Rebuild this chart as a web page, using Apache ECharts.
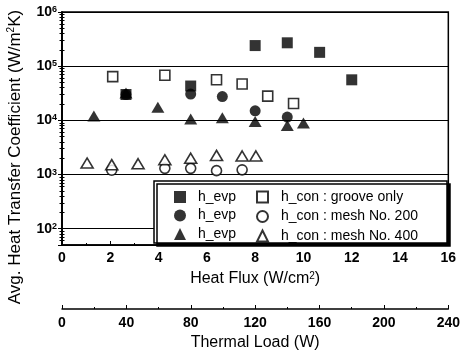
<!DOCTYPE html>
<html>
<head>
<meta charset="utf-8">
<script src="https://cdn.jsdelivr.net/npm/echarts@6/dist/echarts.min.js"></script>
<style>
html,body{margin:0;padding:0;background:#fff;}
#chart{width:463px;height:357px;}
</style>
</head>
<body>
<div id="chart"></div>
<script>
// ---- data ----
const evpGroove = [[2.65,3.0e4],[5.33,4.3e4],[8.0,2.4e5],[9.33,2.7e5],[10.67,1.8e5],[12.0,5.6e4]];
const conGroove = [[2.10,6.4e4],[4.26,6.8e4],[6.40,5.6e4],[7.46,4.7e4],[8.52,2.8e4],[9.59,2.05e4]];
const evpMesh200 = [[2.65,3.0e4],[5.33,3.05e4],[6.64,2.75e4],[8.0,1.5e4],[9.33,1.15e4]];
const conMesh200 = [[2.06,1.2e3],[4.26,1.3e3],[5.33,1.3e3],[6.40,1.18e3],[7.46,1.22e3]];
const evpMesh400 = [[1.32,1.2e4],[2.65,3.2e4],[3.97,1.75e4],[5.33,1.06e4],[6.64,1.12e4],[8.0,9.5e3],[9.33,8.0e3],[10.0,8.9e3]];
const conMesh400 = [[1.04,1.63e3],[2.06,1.52e3],[3.15,1.58e3],[4.26,1.87e3],[5.33,2.0e3],[6.40,2.25e3],[7.46,2.2e3],[8.03,2.2e3]];

const heatFluxRange = [0, 16];
const heatFluxInterval = 2;
const loadRange = [0, 240];
const loadInterval = 40;
const hRange = [50, 1e6];

const legendLabels = {
  evpGroove: 'h_evp', evpMesh200: 'h_evp', evpMesh400: 'h_evp',
  conGroove: 'h_con : groove only', conMesh200: 'h_con : mesh No. 200', conMesh400: 'h_con : mesh No. 400'
};

const FONT = 'Liberation Sans, Arial, Helvetica, sans-serif';

function powLabel(v) {
  const n = Math.round(Math.log10(v));
  if (Math.abs(v - Math.pow(10, n)) / Math.pow(10, n) < 1e-6) return '{b|10}{s|' + n + '}';
  return '';
}

const chart = echarts.init(document.getElementById('chart'), null, {renderer: 'canvas'});

const filled = {color: '#000', borderColor: '#000', borderWidth: 0};
const open = {color: '#fff', borderColor: '#000', borderWidth: 1.6};

const option = {
  animation: false,
  backgroundColor: '#fff',
  textStyle: {fontFamily: FONT},
  grid: {left: 62, right: 10, top: 12, bottom: 112, show: true, borderColor: '#000', borderWidth: 1.5, backgroundColor: 'transparent'},
  xAxis: [
    {
      type: 'value', min: heatFluxRange[0], max: heatFluxRange[1], interval: heatFluxInterval, position: 'bottom',
      axisLine: {lineStyle: {color: '#000', width: 1.5}},
      axisTick: {inside: true, length: 4, lineStyle: {color: '#000'}},
      minorTick: {show: true, splitNumber: 2, length: 2, lineStyle: {color: '#000'}},
      splitLine: {show: false},
      axisLabel: {color: '#000', fontSize: 14, fontWeight: 'bold', fontFamily: FONT, margin: 6},
      name: 'Heat Flux (W/cm{s|2})', nameLocation: 'middle', nameGap: 26,
      nameTextStyle: {color: '#000', fontSize: 16, fontFamily: FONT,
        rich: {s: {fontSize: 10, verticalAlign: 'top', lineHeight: 8, fontFamily: FONT}}}
    },
    {
      type: 'value', min: loadRange[0], max: loadRange[1], interval: loadInterval, position: 'bottom', offset: 64,
      axisLine: {lineStyle: {color: '#000', width: 1.5}},
      axisTick: {inside: true, length: 4, lineStyle: {color: '#000'}},
      minorTick: {show: true, splitNumber: 2, length: 2, lineStyle: {color: '#000'}},
      splitLine: {show: false},
      axisLabel: {color: '#000', fontSize: 14, fontWeight: 'bold', fontFamily: FONT, margin: 7},
      name: 'Thermal Load (W)', nameLocation: 'middle', nameGap: 25,
      nameTextStyle: {color: '#000', fontSize: 16, fontFamily: FONT}
    }
  ],
  yAxis: [
    {
      type: 'log', logBase: 10, min: hRange[0], max: hRange[1], position: 'left',
      axisLine: {lineStyle: {color: '#000', width: 1.5}},
      axisTick: {inside: true, length: 4, lineStyle: {color: '#000'}},
      minorTick: {show: true, splitNumber: 9, length: 2.5, lineStyle: {color: '#000'}},
      splitLine: {show: true, lineStyle: {color: '#000', width: 1}},
      axisLabel: {
        color: '#000', fontFamily: FONT, margin: 5, showMinLabel: false,
        formatter: powLabel,
        rich: {
          b: {fontSize: 14, fontWeight: 'bold', fontFamily: FONT, color: '#000', lineHeight: 14},
          s: {fontSize: 9, fontWeight: 'bold', fontFamily: FONT, color: '#000', verticalAlign: 'top', lineHeight: 8}
        }
      }
    },
    {
      type: 'log', logBase: 10, min: hRange[0], max: hRange[1], position: 'right',
      axisLine: {lineStyle: {color: '#000', width: 1.5}},
      axisTick: {inside: true, length: 4, lineStyle: {color: '#000'}},
      minorTick: {show: true, splitNumber: 9, length: 2.5, lineStyle: {color: '#000'}},
      splitLine: {show: false},
      axisLabel: {show: false}
    }
  ],
  legend: [
    {
      data: ['evpGroove', 'evpMesh200', 'evpMesh400'], orient: 'vertical', left: 169, top: 185,
      itemWidth: 12, itemHeight: 12, itemGap: 4.5, z: 20,
      formatter: n => legendLabels[n],
      textStyle: {color: '#000', fontSize: 14, fontFamily: FONT, lineHeight: 14, padding: [0, 0, 0, 7]}
    },
    {
      data: ['conGroove', 'conMesh200', 'conMesh400'], orient: 'vertical', left: 251, top: 185,
      itemWidth: 11, itemHeight: 11, itemGap: 5.5, z: 20,
      formatter: n => legendLabels[n],
      textStyle: {color: '#000', fontSize: 14, fontFamily: FONT, lineHeight: 14, padding: [0, 0, 0, 8]}
    }
  ],
  graphic: [
    {
      type: 'rect', z: 10, silent: true,
      shape: {x: 154, y: 181, width: 293, height: 62},
      style: {fill: '#fff', stroke: '#000', lineWidth: 1.5, shadowColor: '#000', shadowOffsetX: 3, shadowOffsetY: 3, shadowBlur: 0}
    },
    {
      type: 'text', z: 10, silent: true, x: 15, y: 157, rotation: Math.PI / 2,
      style: {
        text: 'Avg. Heat Transfer Coefficient (W/m{s|2}K)',
        font: '17px ' + FONT, fill: '#000', align: 'center', verticalAlign: 'middle',
        rich: {s: {fontSize: 10, fontFamily: FONT, verticalAlign: 'top', lineHeight: 8, fill: '#000'}}
      }
    }
  ],
  series: [
    {name: 'evpGroove', type: 'scatter', data: evpGroove, symbol: 'rect', symbolSize: 11, itemStyle: filled},
    {name: 'conGroove', type: 'scatter', data: conGroove, symbol: 'rect', symbolSize: 10, itemStyle: open},
    {name: 'evpMesh200', type: 'scatter', data: evpMesh200, symbol: 'circle', symbolSize: 11, itemStyle: filled},
    {name: 'conMesh200', type: 'scatter', data: conMesh200, symbol: 'circle', symbolSize: 10, itemStyle: open},
    {name: 'evpMesh400', type: 'scatter', data: evpMesh400, symbol: 'triangle', symbolSize: [13, 11], itemStyle: filled},
    {name: 'conMesh400', type: 'scatter', data: conMesh400, symbol: 'triangle', symbolSize: [12, 10], itemStyle: open}
  ]
};
chart.setOption(option);
</script>
</body>
</html>
